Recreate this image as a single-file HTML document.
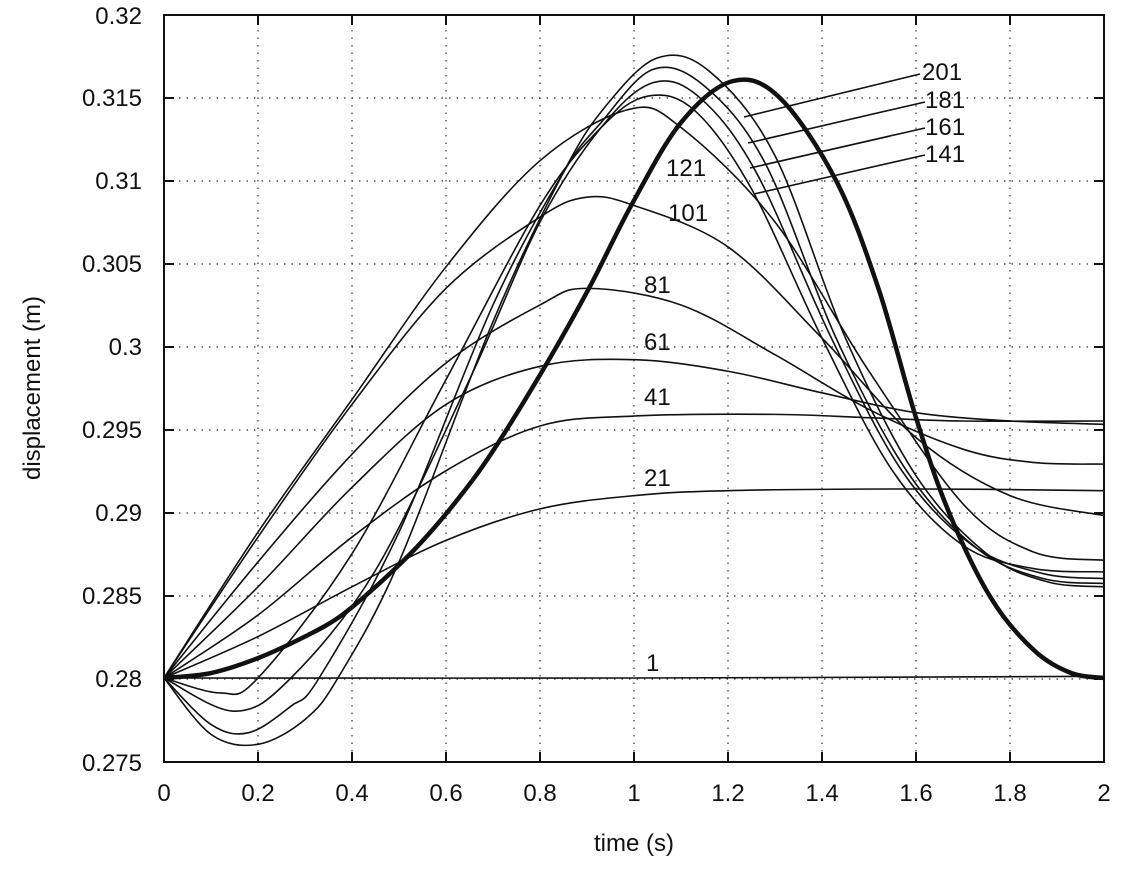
<!DOCTYPE html>
<html><head><meta charset="utf-8"><style>
body{margin:0;background:#fff}
svg{display:block;font-family:"Liberation Sans",sans-serif}
</style></head><body>
<svg id="s" width="1122" height="875" viewBox="0 0 1122 875">
<rect width="1122" height="875" fill="#fff"/>
<g id="grid" stroke="#333" stroke-width="1.2" stroke-dasharray="1.5 6"></g>
<g id="curves" fill="none" stroke="#111" stroke-width="1.6"></g>
<rect x="164" y="15" width="940" height="747" fill="none" stroke="#111" stroke-width="2"/>
<g id="ticks" stroke="#111" stroke-width="2"></g>
<g font-size="24" fill="#111" text-anchor="end">
<text x="142" y="24">0.32</text><text x="142" y="106">0.315</text><text x="142" y="189">0.31</text>
<text x="142" y="272">0.305</text><text x="142" y="355">0.3</text><text x="142" y="438">0.295</text>
<text x="142" y="521">0.29</text><text x="142" y="604">0.285</text><text x="142" y="687">0.28</text>
<text x="142" y="771">0.275</text>
</g>
<g font-size="24" fill="#111" text-anchor="middle">
<text x="164" y="801">0</text><text x="258" y="801">0.2</text><text x="352" y="801">0.4</text>
<text x="446" y="801">0.6</text><text x="540" y="801">0.8</text><text x="634" y="801">1</text>
<text x="728" y="801">1.2</text><text x="822" y="801">1.4</text><text x="916" y="801">1.6</text>
<text x="1010" y="801">1.8</text><text x="1104" y="801">2</text>
<text x="634" y="851">time (s)</text>
<text transform="translate(40 388) rotate(-90)">displacement (m)</text>
</g>
<g font-size="24" fill="#111">
<text x="646" y="671">1</text><text x="644" y="486">21</text><text x="644" y="405">41</text>
<text x="644" y="350">61</text><text x="644" y="293">81</text><text x="668" y="221">101</text>
<text x="666" y="176">121</text><text x="922" y="80">201</text><text x="925" y="108">181</text>
<text x="925" y="135">161</text><text x="925" y="162">141</text>
</g>
<g stroke="#111" stroke-width="1.6">
<line x1="744" y1="117" x2="920" y2="74"/><line x1="748" y1="143" x2="925" y2="102"/>
<line x1="750" y1="168" x2="925" y2="128"/><line x1="754" y1="194" x2="925" y2="155"/>
</g>
</svg>
<script>
var X=t=>164+470*t,Y=v=>678-(v-0.28)*16580,NS="http://www.w3.org/2000/svg";
var g=document.getElementById('grid'),tk=document.getElementById('ticks');
function ln(p,a,b,c,d){var l=document.createElementNS(NS,'line');l.setAttribute('x1',a);l.setAttribute('y1',b);l.setAttribute('x2',c);l.setAttribute('y2',d);p.appendChild(l);}
for(var i=1;i<10;i++){var x=164+94*i;ln(g,x,15,x,762);ln(tk,x,762,x,752);ln(tk,x,15,x,25);}
for(var j=1;j<9;j++){var y=15+83*j;ln(g,164,y,1104,y);ln(tk,164,y,174,y);ln(tk,1104,y,1094,y);}
function path(pts,w){var P=pts.map(p=>[X(p[0]),Y(p[1])]);var d="M"+P[0][0]+","+P[0][1];
for(var i=0;i<P.length-1;i++){var p0=P[Math.max(0,i-1)],p1=P[i],p2=P[i+1],p3=P[Math.min(P.length-1,i+2)];
d+=" C"+(p1[0]+(p2[0]-p0[0])/6)+","+(p1[1]+(p2[1]-p0[1])/6)+" "+(p2[0]-(p3[0]-p1[0])/6)+","+(p2[1]-(p3[1]-p1[1])/6)+" "+p2[0]+","+p2[1];}
var e=document.createElementNS(NS,'path');e.setAttribute('d',d);if(w)e.setAttribute('stroke-width',w);document.getElementById('curves').appendChild(e);}
var C=[
[[0,0.28],[1,0.28],[2,0.2801]],
[[0,0.28],[0.2,0.2825],[0.4,0.2855],[0.6,0.2883],[0.8,0.2902],[1,0.291],[1.2,0.2913],[1.6,0.2914],[2,0.2913]],
[[0,0.28],[0.2,0.2838],[0.4,0.2885],[0.6,0.2925],[0.8,0.2952],[1,0.2958],[1.3,0.2959],[1.5,0.2957],[1.7,0.2955],[2,0.2955]],
[[0,0.28],[0.2,0.2855],[0.4,0.2915],[0.6,0.2965],[0.8,0.2988],[1,0.2992],[1.2,0.2985],[1.4,0.2972],[1.6,0.296],[1.8,0.2955],[2,0.2953]],
[[0,0.28],[0.2,0.287],[0.4,0.2935],[0.6,0.299],[0.8,0.3025],[0.9,0.3035],[1.1,0.3025],[1.3,0.2995],[1.5,0.2962],[1.7,0.2938],[1.85,0.293],[2,0.2929]],
[[0,0.28],[0.2,0.2885],[0.4,0.2965],[0.6,0.3035],[0.8,0.3078],[0.9,0.309],[1,0.3085],[1.2,0.306],[1.4,0.3005],[1.6,0.2945],[1.8,0.291],[2,0.2898]],
[[0,0.28],[0.2,0.2888],[0.4,0.2968],[0.6,0.3048],[0.8,0.3112],[0.99,0.3143],[1.1,0.3132],[1.3,0.3075],[1.5,0.2985],[1.7,0.2905],[1.85,0.2876],[2,0.2871]],
[[0,0.28],[0.12,0.2791],[0.2,0.28],[0.4,0.2875],[0.6,0.298],[0.8,0.3085],[0.93,0.3132],[1.03,0.3151],[1.13,0.3142],[1.25,0.3095],[1.4,0.3005],[1.55,0.2925],[1.7,0.288],[1.85,0.2866],[2,0.2864]],
[[0,0.28],[0.15,0.278],[0.27,0.28],[0.45,0.2865],[0.65,0.298],[0.8,0.3075],[0.93,0.3132],[1.04,0.3159],[1.14,0.315],[1.26,0.3105],[1.42,0.3005],[1.57,0.2925],[1.72,0.288],[1.87,0.2863],[2,0.286]],
[[0,0.28],[0.1,0.2772],[0.18,0.2767],[0.27,0.2783],[0.33,0.28],[0.5,0.2888],[0.7,0.3025],[0.85,0.3105],[0.93,0.3135],[1.04,0.3167],[1.15,0.3157],[1.28,0.311],[1.43,0.3005],[1.58,0.2925],[1.73,0.2878],[1.87,0.286],[2,0.2857]],
[[0,0.28],[0.1,0.2766],[0.2,0.276],[0.3,0.2775],[0.37,0.28],[0.5,0.287],[0.7,0.3015],[0.85,0.3105],[0.94,0.3145],[1.05,0.3174],[1.16,0.3166],[1.3,0.3115],[1.45,0.3005],[1.6,0.2922],[1.75,0.2875],[1.88,0.2858],[2,0.2855]]];
C.forEach(c=>path(c));
path([[0,0.28],[0.1,0.2803],[0.2,0.2812],[0.3,0.2825],[0.374,0.2837],[0.45,0.2855],[0.538,0.2879],[0.62,0.2906],[0.7,0.2937],[0.815,0.299],[0.906,0.3036],[0.996,0.3086],[1.1,0.3135],[1.21,0.316],[1.31,0.315],[1.43,0.31],[1.52,0.3035],[1.6,0.2957],[1.67,0.29],[1.76,0.2848],[1.85,0.2817],[1.93,0.2803],[2,0.28]],4.5);
</script>
</body></html>
